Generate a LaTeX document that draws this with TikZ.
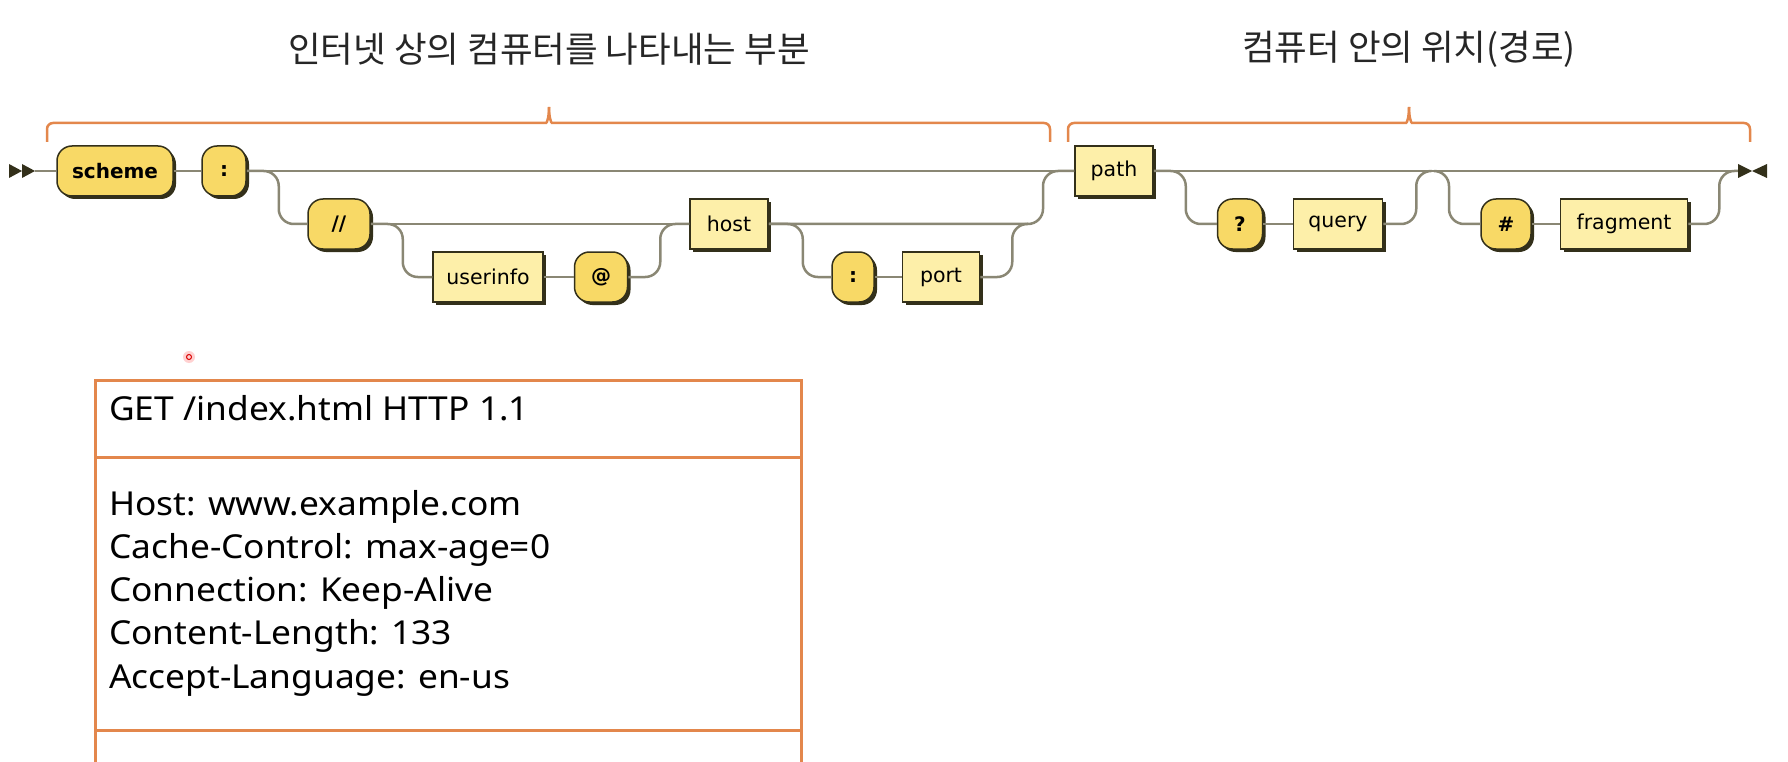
\documentclass[tikz,border=0pt]{standalone}
\usepackage{fontspec}
\usetikzlibrary{shadows}
\newfontfamily\railfont{DejaVu Sans}
\newfontfamily\krfont{Noto Sans CJK KR}
\newfontfamily\reqfont[FakeStretch=1.07]{Noto Sans}
\definecolor{railline}{HTML}{8A8774}
\definecolor{railedge}{HTML}{33301A}
\definecolor{termfill}{HTML}{F8D966}
\definecolor{ntfill}{HTML}{FDEFA9}
\definecolor{bracecol}{HTML}{E3874C}

\begin{document}
\begin{tikzpicture}[x=1pt,y=-1pt,
  rail/.style={draw=railline,line width=2.5pt,rounded corners=15pt},
  railtip/.style={fill=railedge},
  railbox/.style={draw=railedge,line width=1.5pt,minimum height=50pt,inner xsep=0pt,
    drop shadow={shadow xshift=3pt,shadow yshift=-3pt,fill=railedge,opacity=1}},
  term/.style={railbox,fill=termfill,rounded corners=15pt,font=\railfont\bfseries\fontsize{20}{24}\selectfont},
  nonterm/.style={railbox,fill=ntfill,font=\railfont\fontsize{20.5}{24}\selectfont},
  partbrace/.style={draw=bracecol,line width=2.5pt,rounded corners=6pt},
  parttitle/.style={font=\krfont\fontsize{35.5}{42}\selectfont,text=black!85},
  reqbox/.style={draw=bracecol,line width=3pt},
  reqtext/.style={font=\reqfont\fontsize{33}{43}\selectfont,anchor=base west,inner sep=0pt}]
   \useasboundingbox (0,0) rectangle (1788,762);

   % titles and braces
   \node[parttitle] (nettitle) at (549,49) {인터넷 상의 컴퓨터를 나타내는 부분};
   \node[parttitle] (pathtitle) at (1409,49) {컴퓨터 안의 위치(경로)};
   \draw[partbrace] (47,142) -- (47,123) -- (540,123) .. controls (547,123) and (549,117) .. (549,107);
   \draw[partbrace] (549,107) .. controls (549,117) and (551,123) .. (558,123) -- (1050,123) -- (1050,142);
   \draw[partbrace] (1068,142) -- (1068,123) -- (1400,123) .. controls (1407,123) and (1409,117) .. (1409,107);
   \draw[partbrace] (1409,107) .. controls (1409,117) and (1411,123) .. (1418,123) -- (1750,123) -- (1750,142);

   % railroad boxes
   \node[term, minimum width=116pt] (scheme) at (115,171) {scheme};
   \node[term, minimum width=44pt] (colon) at (224,171) {:};
   \node[term, minimum width=62pt] (slashes) at (339,224) {//};
   \node[nonterm, minimum width=110pt] (userinfo) at (488,277) {userinfo};
   \node[term, minimum width=53pt] (atsign) at (601,277) {@};
   \node[nonterm, minimum width=78pt] (host) at (729,224) {host};
   \node[term, minimum width=42pt] (portcolon) at (853,277) {:};
   \node[nonterm, minimum width=77pt] (port) at (941,277) {port};
   \node[nonterm, minimum width=78pt] (urlpath) at (1114,171) {path};
   \node[term, minimum width=45pt] (qmark) at (1240,224) {?};
   \node[nonterm, minimum width=89pt] (query) at (1338,224) {query};
   \node[term, minimum width=50pt] (hash) at (1506,224) {\#};
   \node[nonterm, minimum width=127pt] (fragment) at (1624,224) {fragment};

   \coordinate (begin) at (35,171);
   \coordinate (end) at (1738,171);
   \coordinate (hostjoin) at (1043,224);
   \coordinate (portjoin) at (1028,224);
   \coordinate (queryjoin) at (1431,171);
   \coordinate (fragsplit) at (1434,171);

   % railroad lines
   \draw[rail] (begin) -- (scheme);
   \draw[rail] (scheme) -- (colon);
   \draw[rail] (colon) -- (urlpath);
   \draw[rail] (colon.east) -- ++(32,0) |- (slashes.west);
   \draw[rail] (slashes) -- (host);
   \draw[rail] (slashes.east) -- ++(32,0) |- (userinfo.west);
   \draw[rail] (userinfo) -- (atsign);
   \draw[rail] (atsign.east) -- ++(32,0) |- (host.west);
   \draw[rail] (host.east) -- (hostjoin) |- (urlpath.west);
   \draw[rail] (host.east) -- ++(34,0) |- (portcolon.west);
   \draw[rail] (portcolon) -- (port);
   \draw[rail] (port.east) -- ++(32,0) |- (portjoin);
   \draw[rail] (urlpath) -- (end);
   \draw[rail] (urlpath.east) -- ++(32,0) |- (qmark.west);
   \draw[rail] (qmark) -- (query);
   \draw[rail] (query.east) -- ++(33,0) |- (queryjoin);
   \draw[rail] (fragsplit) -- ++(15,0) |- (hash.west);
   \draw[rail] (hash) -- (fragment);
   \draw[rail] (fragment.east) -- ++(31,0) |- (end);

   % start and end marks
   \foreach \x in {9,22}
     \fill[railtip] (\x,164) -- ++(13,7) -- ++(-13,7) -- cycle;
   \fill[railtip] (1738,164) -- (1752,171) -- (1738,178) -- cycle;
   \fill[railtip] (1767,164) -- (1752,171) -- (1767,178) -- cycle;

   % pointer dot
   \fill[red!30, opacity=0.6] (189,357) circle (6pt);
   \draw[red!85!black, line width=1pt] (189,357) circle (2.5pt);

   % request message
   \draw[reqbox] (95,766) -- (95,380) -- (801,380) -- (801,766);
   \draw[reqbox] (95,457) -- (801,457);
   \draw[reqbox] (95,730) -- (801,730);
   \node[reqtext] (reqline) at (109,420) {GET /index.html HTTP 1.1};
   \foreach \hdr [count=\i] in {Host: www.example.com, Cache-Control: max-age=0,
       Connection: Keep-Alive, Content-Length: 133, Accept-Language: en-us}
     \node[reqtext] (header\i) at (109,471.7+43.3*\i) {\hdr};
\end{tikzpicture}
\end{document}
